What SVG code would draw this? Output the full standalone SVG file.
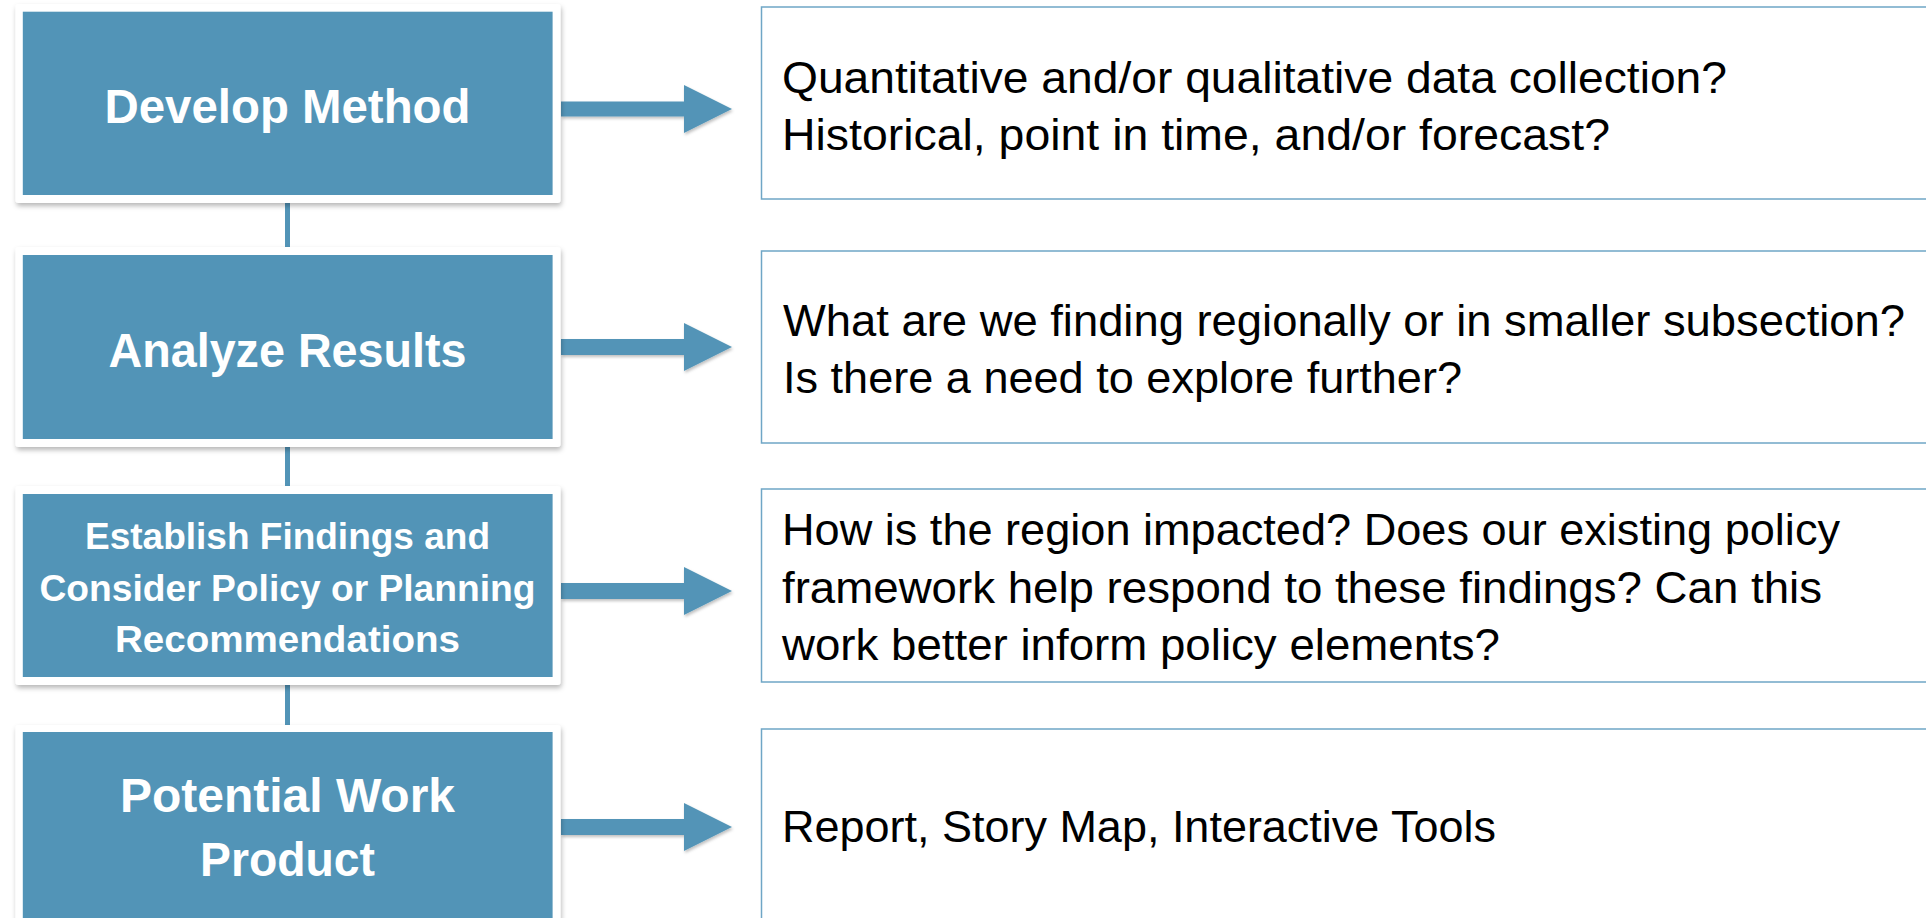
<svg xmlns="http://www.w3.org/2000/svg" width="1926" height="918" viewBox="0 0 1926 918">
<defs>
<filter id="sh" x="-10%" y="-10%" width="120%" height="125%">
<feDropShadow dx="1" dy="3" stdDeviation="2.5" flood-color="#000" flood-opacity="0.28"/>
</filter>
<filter id="ash" x="-10%" y="-20%" width="120%" height="150%">
<feDropShadow dx="1" dy="2" stdDeviation="1.5" flood-color="#000" flood-opacity="0.25"/>
</filter>
<style>
.frame{fill:#ffffff;filter:url(#sh)}
.blue{fill:#5294b7}
.lt{font-family:"Liberation Sans",Arial,sans-serif;font-weight:bold;fill:#ffffff;text-anchor:middle}
.big{font-size:48px}
.sm{font-size:36px}
.rbox{fill:#ffffff;stroke:#6fa6c6;stroke-width:1.5}
.rt{font-family:"Liberation Sans",Arial,sans-serif;font-size:44px;fill:#000000}
.conn{stroke:#5294b7;stroke-width:5;fill:none}
.arr{fill:#5294b7;filter:url(#ash)}
</style>
</defs>
<rect width="1926" height="918" fill="#ffffff"/>

<g id="connectors">
<line class="conn" x1="287.5" y1="203" x2="287.5" y2="247"/>
<line class="conn" x1="287.5" y1="447" x2="287.5" y2="486"/>
<line class="conn" x1="287.5" y1="685" x2="287.5" y2="725"/>
<polygon class="arr" points="561,101.5 684,101.5 684,85 732,109 684,133 684,116.5 561,116.5"/>
<polygon class="arr" points="561,339 684,339 684,323 732,347 684,371 684,355 561,355"/>
<polygon class="arr" points="561,583 684,583 684,567 732,591 684,615 684,599 561,599"/>
<polygon class="arr" points="561,819 684,819 684,803 732,827 684,851 684,835 561,835"/>
</g>

<g id="develop-method">
<rect class="frame" x="15.5" y="4" width="545" height="199" rx="3"/>
<rect class="blue" x="22.8" y="11.7" width="529.8" height="183.3"/>
<text class="lt big" x="287.5" y="123" textLength="366" lengthAdjust="spacingAndGlyphs">Develop Method</text>
</g>

<g id="analyze-results">
<rect class="frame" x="15.5" y="247" width="545" height="200" rx="3"/>
<rect class="blue" x="22.8" y="255" width="529.8" height="184"/>
<text class="lt big" x="287.5" y="367" textLength="358" lengthAdjust="spacingAndGlyphs">Analyze Results</text>
</g>

<g id="establish-findings">
<rect class="frame" x="15.5" y="486" width="545" height="199" rx="3"/>
<rect class="blue" x="22.8" y="494" width="529.8" height="183"/>
<text class="lt sm" x="287.5" y="549" textLength="405" lengthAdjust="spacingAndGlyphs">Establish Findings and</text>
<text class="lt sm" x="287.5" y="601" textLength="496" lengthAdjust="spacingAndGlyphs">Consider Policy or Planning</text>
<text class="lt sm" x="287.5" y="652" textLength="345" lengthAdjust="spacingAndGlyphs">Recommendations</text>
</g>

<g id="potential-work-product">
<rect class="frame" x="15.5" y="725" width="545" height="210" rx="3"/>
<rect class="blue" x="22.8" y="732" width="529.8" height="200"/>
<text class="lt big" x="287.5" y="812" textLength="335" lengthAdjust="spacingAndGlyphs">Potential Work</text>
<text class="lt big" x="287.5" y="876" textLength="175" lengthAdjust="spacingAndGlyphs">Product</text>
</g>

<g id="method-questions">
<rect class="rbox" x="761.5" y="7" width="1200" height="192"/>
<text class="rt" x="782" y="93" textLength="945" lengthAdjust="spacingAndGlyphs">Quantitative and/or qualitative data collection?</text>
<text class="rt" x="782" y="150" textLength="828" lengthAdjust="spacingAndGlyphs">Historical, point in time, and/or forecast?</text>
</g>

<g id="results-questions">
<rect class="rbox" x="761.5" y="251" width="1200" height="192"/>
<text class="rt" x="783" y="336" textLength="1122" lengthAdjust="spacingAndGlyphs">What are we finding regionally or in smaller subsection?</text>
<text class="rt" x="783" y="393" textLength="679" lengthAdjust="spacingAndGlyphs">Is there a need to explore further?</text>
</g>

<g id="findings-questions">
<rect class="rbox" x="761.5" y="489" width="1200" height="193"/>
<text class="rt" x="782" y="545" textLength="1058" lengthAdjust="spacingAndGlyphs">How is the region impacted? Does our existing policy</text>
<text class="rt" x="782" y="603" textLength="1040" lengthAdjust="spacingAndGlyphs">framework help respond to these findings? Can this</text>
<text class="rt" x="782" y="660" textLength="718" lengthAdjust="spacingAndGlyphs">work better inform policy elements?</text>
</g>

<g id="work-product-items">
<rect class="rbox" x="761.5" y="729" width="1200" height="220"/>
<text class="rt" x="782" y="842" textLength="714" lengthAdjust="spacingAndGlyphs">Report, Story Map, Interactive Tools</text>
</g>
</svg>
